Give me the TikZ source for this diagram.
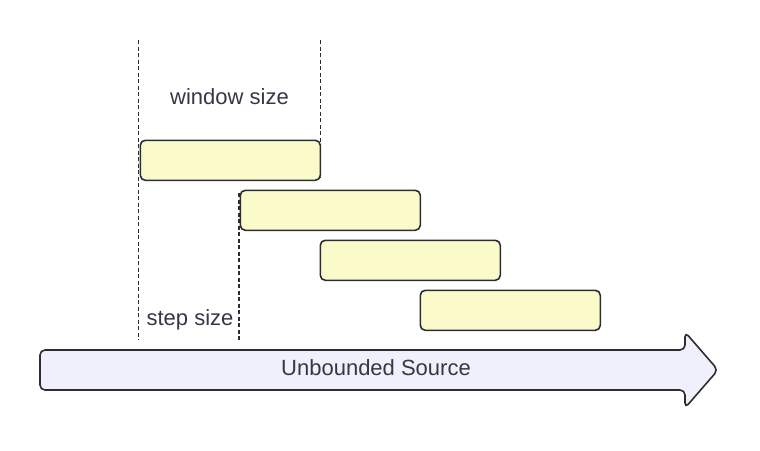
\documentclass[tikz,border=0pt]{standalone}
\usepackage{fontspec}
\setmainfont{Liberation Sans}
\definecolor{winfill}{HTML}{FBFACB}
\definecolor{srcfill}{HTML}{F0F0FC}
\definecolor{ink}{HTML}{2B2D33}
\definecolor{txt}{HTML}{333844}
\begin{document}
\begin{tikzpicture}[x=1pt, y=-1pt, line join=round, line cap=round,
	font=\fontsize{22}{26}\selectfont,
	win/.style={draw=ink, fill=winfill, line width=1.6pt, rounded corners=5pt,
		minimum width=180pt, minimum height=40pt, inner sep=0pt, anchor=north west},
	guide/.style={draw=ink, line width=1.6pt, dash pattern=on 4pt off 2.5pt, line cap=butt},
	lbl/.style={text=txt, anchor=base, inner sep=0pt}]
	\useasboundingbox (0,0) rectangle (760,450);
	% Grenzen der Hilfslinien
	\coordinate (top) at (0,40);
	\coordinate (bot) at (0,340);
	% Quelle als Pfeil
	\draw[draw=ink, fill=srcfill, line width=1.6pt, rounded corners=5pt]
		(40,350) -- (685,350) -- (685,332) -- (718,370) -- (685,408) -- (685,390) -- (40,390) -- cycle;
	\node[lbl] (src) at (376,375) {Unbounded Source};
	% Fenster
	\path (138.5,0) coordinate (l1) (320.5,0) coordinate (r1) (239,0) coordinate (l2);
	\draw[guide] (l1 |- top) -- (l1 |- bot);
	\draw[guide] (r1 |- top) -- (r1 |- 0,178);
	\draw[guide] (l2 |- 0,193) -- (l2 |- bot);
	\node[win] (w1) at (139.5,139.5) {};
	\node[win] (w2) at (239.5,189.5) {};
	\node[win] (w3) at (319.5,239.5) {};
	\node[win] (w4) at (419.5,289.5) {};
	% Beschriftungen
	\node[lbl] (wsize) at (229.5,104.5) {window size};
	\node[lbl] (ssize) at (190,325) {step size};
\end{tikzpicture}
\end{document}
